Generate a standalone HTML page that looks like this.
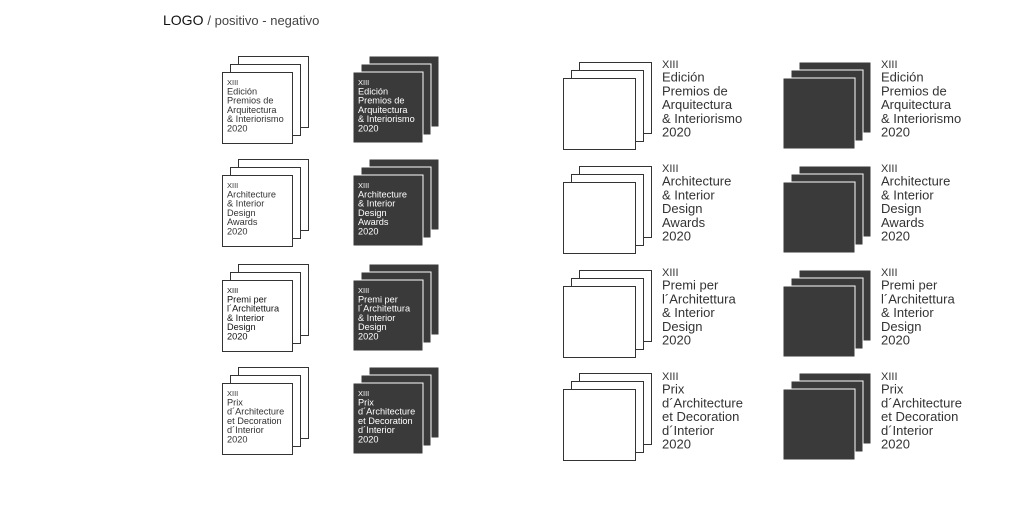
<!DOCTYPE html>
<html><head><meta charset="utf-8"><style>
html,body{margin:0;padding:0;background:#fff;}
svg{display:block;font-family:"Liberation Sans",sans-serif;}
</style></head><body>
<svg width="1024" height="512" viewBox="0 0 1024 512" xmlns="http://www.w3.org/2000/svg">
<defs>
<g id="sw"><rect x="16.5" y="-15.5" width="70" height="71" fill="#fff" stroke="#333"/><rect x="8.5" y="-7.5" width="70" height="71" fill="#fff" stroke="#333"/><rect x="0.5" y="0.5" width="70" height="71" fill="#fff" stroke="#333"/></g>
<g id="sd"><rect x="16" y="-16" width="70" height="71" fill="#3a3a3a" stroke="#fff"/><rect x="8" y="-8" width="70" height="71" fill="#3a3a3a" stroke="#fff"/><rect x="0" y="0" width="70" height="71" fill="#3a3a3a" stroke="#fff"/></g>
<g id="lw"><rect x="16.5" y="-15.5" width="72" height="71" fill="#fff" stroke="#333"/><rect x="8.5" y="-7.5" width="72" height="71" fill="#fff" stroke="#333"/><rect x="0.5" y="0.5" width="72" height="71" fill="#fff" stroke="#333"/></g>
<g id="ld"><rect x="16" y="-16" width="72" height="71" fill="#3a3a3a" stroke="#fff"/><rect x="8" y="-8" width="72" height="71" fill="#3a3a3a" stroke="#fff"/><rect x="0" y="0" width="72" height="71" fill="#3a3a3a" stroke="#fff"/></g>
</defs>
<text x="163" y="25" font-size="14" fill="#111">LOGO <tspan fill="#444" font-size="13">/ positivo - negativo</tspan></text>

<use href="#sw" x="222" y="72"/><use href="#sd" x="353" y="72"/>
<use href="#lw" x="563" y="78"/><use href="#ld" x="783" y="78"/>
<use href="#sw" x="222" y="175"/><use href="#sd" x="353" y="175"/>
<use href="#lw" x="563" y="182"/><use href="#ld" x="783" y="182"/>
<use href="#sw" x="222" y="280"/><use href="#sd" x="353" y="280"/>
<use href="#lw" x="563" y="286"/><use href="#ld" x="783" y="286"/>
<use href="#sw" x="222" y="383"/><use href="#sd" x="353" y="383"/>
<use href="#lw" x="563" y="389"/><use href="#ld" x="783" y="389"/>

<g font-size="9.2" fill="#333">
<text x="227" y="85"><tspan font-size="7.5">XIII</tspan><tspan x="227" dy="9.3">Edición</tspan><tspan x="227" dy="9.3">Premios de</tspan><tspan x="227" dy="9.3">Arquitectura</tspan><tspan x="227" dy="9.3">&amp; Interiorismo</tspan><tspan x="227" dy="9.3">2020</tspan></text>
<text x="227" y="188"><tspan font-size="7.5">XIII</tspan><tspan x="227" dy="9.3">Architecture</tspan><tspan x="227" dy="9.3">&amp; Interior</tspan><tspan x="227" dy="9.3">Design</tspan><tspan x="227" dy="9.3">Awards</tspan><tspan x="227" dy="9.3">2020</tspan></text>
<text x="227" y="293" fill="#111"><tspan font-size="7.5">XIII</tspan><tspan x="227" dy="9.3">Premi per</tspan><tspan x="227" dy="9.3">l´Architettura</tspan><tspan x="227" dy="9.3">&amp; Interior</tspan><tspan x="227" dy="9.3">Design</tspan><tspan x="227" dy="9.3">2020</tspan></text>
<text x="227" y="396"><tspan font-size="7.5">XIII</tspan><tspan x="227" dy="9.3">Prix</tspan><tspan x="227" dy="9.3">d´Architecture</tspan><tspan x="227" dy="9.3">et Decoration</tspan><tspan x="227" dy="9.3">d´Interior</tspan><tspan x="227" dy="9.3">2020</tspan></text>
</g>
<g font-size="9.2" fill="#fff">
<text x="358" y="85"><tspan font-size="7.5">XIII</tspan><tspan x="358" dy="9.3">Edición</tspan><tspan x="358" dy="9.3">Premios de</tspan><tspan x="358" dy="9.3">Arquitectura</tspan><tspan x="358" dy="9.3">&amp; Interiorismo</tspan><tspan x="358" dy="9.3">2020</tspan></text>
<text x="358" y="188"><tspan font-size="7.5">XIII</tspan><tspan x="358" dy="9.3">Architecture</tspan><tspan x="358" dy="9.3">&amp; Interior</tspan><tspan x="358" dy="9.3">Design</tspan><tspan x="358" dy="9.3">Awards</tspan><tspan x="358" dy="9.3">2020</tspan></text>
<text x="358" y="293"><tspan font-size="7.5">XIII</tspan><tspan x="358" dy="9.3">Premi per</tspan><tspan x="358" dy="9.3">l´Architettura</tspan><tspan x="358" dy="9.3">&amp; Interior</tspan><tspan x="358" dy="9.3">Design</tspan><tspan x="358" dy="9.3">2020</tspan></text>
<text x="358" y="396"><tspan font-size="7.5">XIII</tspan><tspan x="358" dy="9.3">Prix</tspan><tspan x="358" dy="9.3">d´Architecture</tspan><tspan x="358" dy="9.3">et Decoration</tspan><tspan x="358" dy="9.3">d´Interior</tspan><tspan x="358" dy="9.3">2020</tspan></text>
</g>
<g font-size="13" fill="#333">
<text x="662" y="68"><tspan font-size="11">XIII</tspan><tspan x="662" dy="13.7">Edición</tspan><tspan x="662" dy="13.7">Premios de</tspan><tspan x="662" dy="13.7">Arquitectura</tspan><tspan x="662" dy="13.7">&amp; Interiorismo</tspan><tspan x="662" dy="13.7">2020</tspan></text>
<text x="662" y="172"><tspan font-size="11">XIII</tspan><tspan x="662" dy="13.7">Architecture</tspan><tspan x="662" dy="13.7">&amp; Interior</tspan><tspan x="662" dy="13.7">Design</tspan><tspan x="662" dy="13.7">Awards</tspan><tspan x="662" dy="13.7">2020</tspan></text>
<text x="662" y="276"><tspan font-size="11">XIII</tspan><tspan x="662" dy="13.7">Premi per</tspan><tspan x="662" dy="13.7">l´Architettura</tspan><tspan x="662" dy="13.7">&amp; Interior</tspan><tspan x="662" dy="13.7">Design</tspan><tspan x="662" dy="13.7">2020</tspan></text>
<text x="662" y="380"><tspan font-size="11">XIII</tspan><tspan x="662" dy="13.7">Prix</tspan><tspan x="662" dy="13.7">d´Architecture</tspan><tspan x="662" dy="13.7">et Decoration</tspan><tspan x="662" dy="13.7">d´Interior</tspan><tspan x="662" dy="13.7">2020</tspan></text>
<text x="881" y="68"><tspan font-size="11">XIII</tspan><tspan x="881" dy="13.7">Edición</tspan><tspan x="881" dy="13.7">Premios de</tspan><tspan x="881" dy="13.7">Arquitectura</tspan><tspan x="881" dy="13.7">&amp; Interiorismo</tspan><tspan x="881" dy="13.7">2020</tspan></text>
<text x="881" y="172"><tspan font-size="11">XIII</tspan><tspan x="881" dy="13.7">Architecture</tspan><tspan x="881" dy="13.7">&amp; Interior</tspan><tspan x="881" dy="13.7">Design</tspan><tspan x="881" dy="13.7">Awards</tspan><tspan x="881" dy="13.7">2020</tspan></text>
<text x="881" y="276"><tspan font-size="11">XIII</tspan><tspan x="881" dy="13.7">Premi per</tspan><tspan x="881" dy="13.7">l´Architettura</tspan><tspan x="881" dy="13.7">&amp; Interior</tspan><tspan x="881" dy="13.7">Design</tspan><tspan x="881" dy="13.7">2020</tspan></text>
<text x="881" y="380"><tspan font-size="11">XIII</tspan><tspan x="881" dy="13.7">Prix</tspan><tspan x="881" dy="13.7">d´Architecture</tspan><tspan x="881" dy="13.7">et Decoration</tspan><tspan x="881" dy="13.7">d´Interior</tspan><tspan x="881" dy="13.7">2020</tspan></text>
</g>
</svg>
</body></html>
